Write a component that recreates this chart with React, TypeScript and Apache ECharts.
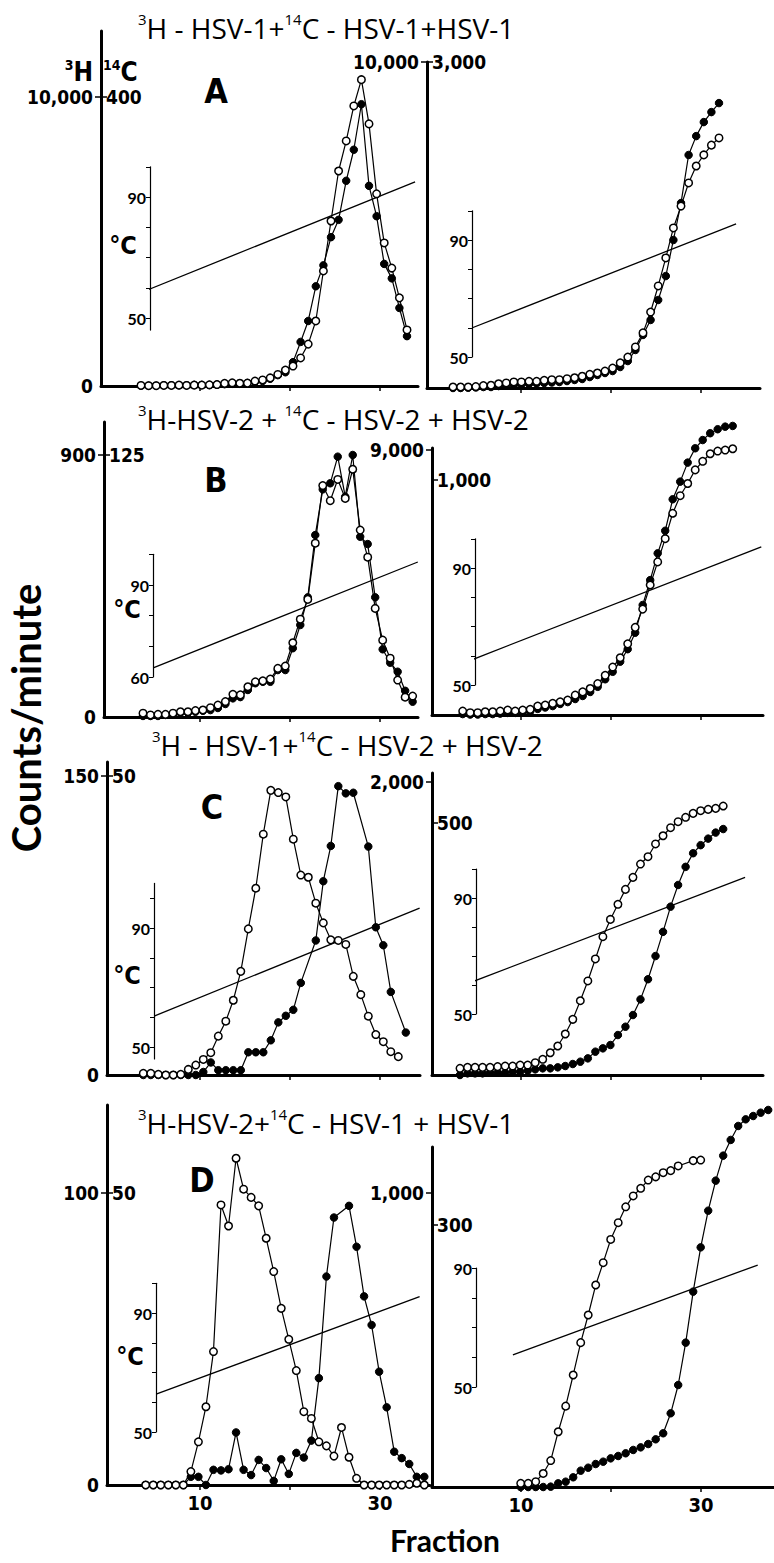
import React, { useEffect, useRef } from "react";
import * as echarts from "echarts";

// ---------------- data ----------------
// Panel A : 3H-HSV-1 + 14C-HSV-1 + HSV-1
const aLeft3H = [20, 10, 10, 20, 20, 30, 20, 30, 30, 40, 50, 90, 110, 95, 100, 170, 210, 280, 400, 550, 690, 970, 1450, 2250, 3980, 5710, 7440, 8480, 9690, 10600, 9070, 6650, 4950, 4080, 3050, 1940];
const aLeft14C = [0.5, 0.5, 0.5, 1, 1, 1, 1, 1.5, 1.5, 1.5, 2, 2.5, 3, 3, 4, 6, 7, 10, 15, 19, 33, 61, 90, 138, 167, 206, 230, 284, 327, 390, 277, 235, 169, 149, 108, 69];
const aRight3H = [30, 30, 30, 45, 75, 85, 130, 155, 185, 185, 205, 205, 235, 255, 255, 285, 315, 360, 420, 460, 520, 610, 770, 950, 1260, 1690, 2330, 3130, 3990, 4910, 5580, 6290, 6810, 7150, 7450, 7670];
const aRight14C = [0, 0, 3, 5, 9, 9, 18, 23, 28, 32, 37, 41, 46, 51, 55, 64, 74, 83, 101, 120, 138, 156, 193, 248, 350, 488, 626, 810, 1030, 1362, 1702, 2144, 2318, 2447, 2539, 2622];
// Panel B : 3H-HSV-2 + 14C-HSV-2 + HSV-2
const bLeft3H = [13, 7, 9, 9, 13, 18, 18, 22, 24, 32, 41, 53, 78, 76, 104, 121, 124, 130, 167, 175, 255, 336, 404, 597, 795, 743, 816, 751, 851, 642, 549, 373, 264, 202, 127, 68, 72];
const bLeft14C = [0.5, 0.5, 0.5, 1, 1.5, 2, 2, 2.5, 3, 3.3, 4.3, 6.2, 8.9, 9.5, 12.9, 16.1, 16.8, 16.8, 22.4, 22.4, 32.8, 43.9, 57.1, 86.8, 108.6, 111.5, 124.2, 105.1, 125, 86, 82.5, 57.1, 32.3, 25.9, 21.6, 12.5, 7.3];
const bRight3H = [135, 78, 78, 111, 111, 135, 169, 135, 169, 192, 303, 337, 394, 448, 506, 674, 785, 900, 1068, 1348, 1628, 1944, 2416, 2976, 3596, 4415, 5200, 5988, 6851, 7448, 7862, 8324, 8617, 8873, 8964, 8998, 9042];
const bRight14C = [4, 2, 2, 4, 4, 6, 9, 9, 11, 15, 26, 32, 38, 47, 55, 68, 81, 98, 120, 152, 184, 227, 280, 350, 468, 574, 688, 784, 918, 993, 1074, 1135, 1170, 1199, 1216, 1227, 1230];
// Panel C : 3H-HSV-1 + 14C-HSV-2 + HSV-2
const cLeft3H = [0.8, 0.8, 0.3, 0, 0, 0.3, 2.8, 5, 7.8, 11.2, 19.5, 27, 37.5, 52, 73.3, 93.7, 120.8, 142.8, 141.7, 139.5, 118.3, 100.3, 99.2, 86.2, 76.3, 67.8, 67.5, 65.5, 49.5, 40.3, 29.5, 20.3, 16.7, 11.7, 9.2];
const cLeft14C = [0, 0, 0, 0, 0, 0, 0, 0, 0.5, 2.1, 0.8, 0.8, 0.8, 0.8, 3.8, 3.8, 3.8, 5.8, 8.8, 9.9, 10.9, 15.4, null, 22.5, 32.4, 38.3, 48.3, 47.1, 47.2, null, 38.2, 24.7, 21.7, 13.9, null, 7.1];
const cRight3H = [45.5, 52, 52, 52, 52, 57, 61, 61, 68, 68, 84, 107, 152, 198, 280, 380, 507, 642, 792, 944, 1062, 1165, 1267, 1349, 1440, 1490, 1577, 1633, 1688, 1729, 1759, 1786, 1804, 1813, 1820, 1836];
const cRight14C = [0, 3.3, 3.3, 3.3, 4.6, 4.6, 4.6, 6.6, 6.6, 8.6, 11.2, 13.2, 13.2, 15.2, 17.8, 21.8, 26.4, 33, 46.3, 52.9, 59.5, 79.3, 95.8, 119, 150, 190, 236, 284, 334, 377, 413, 440, 456, 469, 481, 488];
// Panel D : 3H-HSV-2 + 14C-HSV-1 + HSV-1
const dLeft3H = [0, 0, 0, 0, 0, 0, 4.6, 14.8, 26.8, 45.7, 95.9, 88.7, 111.9, 101.3, 98.5, 95.6, 84.5, 73.1, 60.5, 49.9, 39.2, 25.1, 22.8, 14.8, 13.4, 9.9, 19.7, 9.5, 2.3, 0, 0, 0, 0, 0, 0, 0.2, 0.6, 0];
const dLeft14C = [0, 0, 0, 0, 0, 0, 1.4, 1.4, 0, 2.6, 2.5, 2.7, 9.0, 2.6, 1.7, 4.3, 2.9, 0.7, 4.4, 1.9, 5.5, 4.7, 7.6, 18.3, 35.7, 45.8, null, 47.8, 40.8, 32.3, 27.4, 19.4, 13.3, 5.7, 4.6, 3.6, 1.4, 1.4];
const dRight3H = [12.5, 12.5, 18, 46, 90, 188, 275, 381, 491, 585, 687, 763, 842, 899, 953, 990, 1016, 1044, 1055, 1069, 1076, 1092, null, 1110, 1112];
const dRight14C = [0, 0, 0, 0, 0.4, 4.2, 6.1, 11.1, 18.7, 22.1, 26.3, 29, 32.8, 35.5, 38.6, 42.4, 45.4, 49.2, 54.6, 61.5, 84.4, 116.8, 165.3, 223.7, 274.4, 316.4, 350.8, 379.4, 397.4, 413.4, 421, 424.8, 428.6, 431.7];

// counts/minute tick labels: [3H, 14C]
const aLeftAxis = [10000, 400];
const aRightAxis = [10000, 3000];
const bLeftAxis = [900, 125];
const bRightAxis = [9000, 1000];
const cLeftAxis = [150, 50];
const cRightAxis = [2000, 500];
const dLeftAxis = [100, 50];
const dRightAxis = [1000, 300];

// temperature gradient: [fraction, degC] at both ends
const aLeftTemp = [[1.7, 56.3], [33.9, 95]];
const aRightTemp = [[4.6, 60], [33.9, 95.5]];
const bLeftTemp = [[4.8, 63], [34.2, 97.5]];
const bRightTemp = [[3.6, 57.5], [36.7, 97.2]];
const cLeftTemp = [[4.9, 60.4], [34.4, 96.7]];
const cRightTemp = [[3.4, 59.7], [34.9, 97.1]];
const dLeftTemp = [[5.2, 62.8], [34.4, 95.5]];
const dRightTemp = [[9.1, 60.8], [36.3, 91]];

const fractionTicks = [10, 20, 30];
const fractionLabels = [10, 30];
const tempTicks = [50, 60, 70, 80, 90, 100];
const tempLabels50 = [50, 90];
const tempLabels60 = [60, 90];

const titles = [
  "{s|3}{m|H - HSV-1+}{s|14}{m|C - HSV-1+HSV-1}",
  "{s|3}{m|H-HSV-2 + }{s|14}{m|C - HSV-2 + HSV-2}",
  "{s|3}{m|H - HSV-1+}{s|14}{m|C - HSV-2 + HSV-2}",
  "{s|3}{m|H-HSV-2+}{s|14}{m|C - HSV-1 + HSV-1}",
];
const letters = ["A", "B", "C", "D"];

// ---------------- layout ----------------
const W = 774;
const H = 1563;
const COND = "'Liberation Sans Narrow','DejaVu Sans Condensed','Roboto Condensed','Liberation Sans',Arial,sans-serif";
const GEO = "Lato,'Open Sans','DejaVu Sans',sans-serif";
const TITLEF = "'Open Sans','Noto Sans','DejaVu Sans',sans-serif";

type TempCfg = { x: number; y90: number; yLow: number; low: number; tMin: number; tMax: number };
type PanelCfg = {
  axisX: number; topY: number; baseY: number; endX: number;
  labels: number[]; hLabelY: number; cLabelY: number; zero: boolean;
  firstX: number; dx: number; f10X: number; ppf: number; showFrac: boolean;
  temp: TempCfg; tempLabels: number[]; tempLine: number[][];
  open: (number | null)[]; filled: (number | null)[];
};

const panels: PanelCfg[] = [
  { axisX: 101, topY: 31, baseY: 386, endX: 418, labels: aLeftAxis, hLabelY: 97, cLabelY: 97, zero: true,
    firstX: 141, dx: 7.6, f10X: 200, ppf: 9, showFrac: false,
    temp: { x: 150, y90: 197, yLow: 318, low: 50, tMin: 46, tMax: 100 }, tempLabels: tempLabels50, tempLine: aLeftTemp,
    open: aLeft3H, filled: aLeft14C },
  { axisX: 427, topY: 62, baseY: 388, endX: 760, labels: aRightAxis, hLabelY: 62, cLabelY: 62, zero: false,
    firstX: 453, dx: 7.6, f10X: 521, ppf: 9, showFrac: false,
    temp: { x: 472, y90: 240, yLow: 357, low: 50, tMin: 50, tMax: 100 }, tempLabels: tempLabels50, tempLine: aRightTemp,
    open: aRight3H, filled: aRight14C },
  { axisX: 104, topY: 422, baseY: 717, endX: 418, labels: bLeftAxis, hLabelY: 455, cLabelY: 455, zero: true,
    firstX: 143, dx: 7.49, f10X: 200, ppf: 9, showFrac: false,
    temp: { x: 153, y90: 585, yLow: 677, low: 60, tMin: 60, tMax: 100 }, tempLabels: tempLabels60, tempLine: bLeftTemp,
    open: bLeft3H, filled: bLeft14C },
  { axisX: 432, topY: 448, baseY: 715, endX: 763, labels: bRightAxis, hLabelY: 450, cLabelY: 480, zero: false,
    firstX: 462.7, dx: 7.5, f10X: 521, ppf: 9, showFrac: false,
    temp: { x: 475, y90: 568, yLow: 685, low: 50, tMin: 50, tMax: 100 }, tempLabels: tempLabels50, tempLine: bRightTemp,
    open: bRight3H, filled: bRight14C },
  { axisX: 107, topY: 762, baseY: 1075, endX: 420, labels: cLeftAxis, hLabelY: 776, cLabelY: 776, zero: true,
    firstX: 143.3, dx: 7.5, f10X: 200, ppf: 9, showFrac: false,
    temp: { x: 154, y90: 928, yLow: 1047, low: 50, tMin: 46, tMax: 105 }, tempLabels: tempLabels50, tempLine: cLeftTemp,
    open: cLeft3H, filled: cLeft14C },
  { axisX: 432, topY: 773, baseY: 1075, endX: 763, labels: cRightAxis, hLabelY: 782, cLabelY: 823, zero: false,
    firstX: 460, dx: 7.52, f10X: 521, ppf: 9, showFrac: false,
    temp: { x: 476, y90: 898, yLow: 1014, low: 50, tMin: 50, tMax: 100 }, tempLabels: tempLabels50, tempLine: cRightTemp,
    open: cRight3H, filled: cRight14C },
  { axisX: 107, topY: 1105, baseY: 1485, endX: 430, labels: dLeftAxis, hLabelY: 1193, cLabelY: 1193, zero: true,
    firstX: 145.7, dx: 7.53, f10X: 200, ppf: 9, showFrac: true,
    temp: { x: 156, y90: 1313, yLow: 1432, low: 50, tMin: 50, tMax: 100 }, tempLabels: tempLabels50, tempLine: dLeftTemp,
    open: dLeft3H, filled: dLeft14C },
  { axisX: 432, topY: 1147, baseY: 1487, endX: 774, labels: dRightAxis, hLabelY: 1193, cLabelY: 1225, zero: false,
    firstX: 520.7, dx: 7.5, f10X: 521, ppf: 9, showFrac: true,
    temp: { x: 476, y90: 1268, yLow: 1387, low: 50, tMin: 50, tMax: 90 }, tempLabels: tempLabels50, tempLine: dRightTemp,
    open: dRight3H, filled: dRight14C },
];

const titlePos = [[138, 28], [138, 419], [152, 745], [138, 1123]];
const letterPos = [[216, 91], [216, 480], [212, 807], [202, 1180]];
const degPos = [[123, 245], [127, 609], [127, 975], [130, 1356]];

const fmt = (v: number) => String(v).replace(/\B(?=(\d{3})+(?!\d))/g, ",");
const toSeries = (vals: (number | null)[]) => vals.map((v, i) => [i + 1, v == null ? "-" : v]);

function buildOption() {
  const grid: any[] = [];
  const xAxis: any[] = [];
  const yAxis: any[] = [];
  const series: any[] = [];
  const black = "#000";
  const yLab = { color: black, fontFamily: COND, fontWeight: "bold", fontSize: 19 };

  panels.forEach((p) => {
    const gi = grid.length;
    const gl = p.axisX, gr = p.endX, gt = p.topY, gb = p.baseY;
    grid.push({ left: gl, top: gt, width: gr - gl, height: gb - gt });
    const xd = xAxis.length;
    xAxis.push({ type: "value", gridIndex: gi, min: 1 - (p.firstX - gl) / p.dx, max: 1 + (gr - p.firstX) / p.dx, show: false });
    xAxis.push({
      type: "value", gridIndex: gi, position: "bottom",
      min: 10 + (gl - p.f10X) / p.ppf, max: 10 + (gr - p.f10X) / p.ppf,
      axisLine: { show: true, onZero: false, lineStyle: { color: black, width: 3 } },
      axisTick: { show: true, customValues: fractionTicks, length: 5, lineStyle: { color: black, width: 1.5 } },
      axisLabel: { show: p.showFrac, customValues: fractionLabels, color: black, fontFamily: COND, fontWeight: "bold", fontSize: 20, margin: 8 },
      splitLine: { show: false },
    });
    const [hv, cv] = p.labels;
    const yh = yAxis.length;
    yAxis.push({
      type: "value", gridIndex: gi, position: "left", min: 0, max: (hv * (gb - gt)) / (gb - p.hLabelY),
      axisLine: { show: true, onZero: false, lineStyle: { color: black, width: 3 } },
      axisTick: { show: true, customValues: [hv], length: 6, lineStyle: { color: black, width: 1.5 } },
      axisLabel: { ...yLab, customValues: p.zero ? [0, hv] : [hv], formatter: fmt, margin: 8 },
      splitLine: { show: false },
    });
    const yc = yAxis.length;
    yAxis.push({
      type: "value", gridIndex: gi, position: "left", min: 0, max: (cv * (gb - gt)) / (gb - p.cLabelY),
      axisLine: { show: false, onZero: false },
      axisTick: { show: true, inside: true, customValues: [cv], length: 6, lineStyle: { color: black, width: 1.5 } },
      axisLabel: { ...yLab, inside: true, customValues: [cv], formatter: fmt, margin: 5 },
      splitLine: { show: false },
    });
    series.push({
      type: "line", xAxisIndex: xd, yAxisIndex: yc, data: toSeries(p.filled), connectNulls: true, clip: false, silent: true,
      symbol: "circle", symbolSize: 7.5, lineStyle: { color: black, width: 1.2 },
      itemStyle: { color: black, borderColor: black, borderWidth: 1 }, z: 3,
    });
    series.push({
      type: "line", xAxisIndex: xd, yAxisIndex: yh, data: toSeries(p.open), connectNulls: true, clip: false, silent: true,
      symbol: "circle", symbolSize: 7.5, lineStyle: { color: black, width: 1.2 },
      itemStyle: { color: "#fff", borderColor: black, borderWidth: 1.5 }, z: 4,
    });

    // temperature axis + gradient line
    const t = p.temp;
    const ppd = (t.yLow - t.y90) / (90 - t.low);
    const tt = t.y90 - (t.tMax - 90) * ppd;
    const tb = t.y90 + (90 - t.tMin) * ppd;
    const gt2 = grid.length;
    grid.push({ left: t.x, top: tt, width: gr - t.x, height: tb - tt });
    const xt = xAxis.length;
    xAxis.push({ type: "value", gridIndex: gt2, min: 10 + (t.x - p.f10X) / p.ppf, max: 10 + (gr - p.f10X) / p.ppf, show: false });
    const yt = yAxis.length;
    yAxis.push({
      type: "value", gridIndex: gt2, position: "left", min: t.tMin, max: t.tMax,
      axisLine: { show: true, onZero: false, lineStyle: { color: black, width: 1.2 } },
      axisTick: { show: true, customValues: tempTicks.filter((v) => v >= t.tMin && v <= t.tMax), length: 4, lineStyle: { color: black, width: 1 } },
      axisLabel: { customValues: p.tempLabels, color: black, fontFamily: GEO, fontWeight: "bold", fontSize: 16, margin: 4 },
      splitLine: { show: false },
    });
    series.push({
      type: "line", xAxisIndex: xt, yAxisIndex: yt, data: p.tempLine, clip: false, silent: true, symbol: "none",
      lineStyle: { color: black, width: 1.3 }, z: 2,
    });
  });

  const graphic: any[] = [];
  titles.forEach((txt, i) => {
    graphic.push({
      type: "text", x: titlePos[i][0], y: titlePos[i][1], silent: true,
      style: {
        text: txt, align: "left", verticalAlign: "middle", fill: black,
        rich: {
          m: { fontFamily: TITLEF, fontSize: 28, fill: black, color: black, lineHeight: 34 },
          s: { fontFamily: TITLEF, fontSize: 15, fill: black, color: black, lineHeight: 16, verticalAlign: "top" },
        },
      },
    });
  });
  letters.forEach((l, i) => {
    graphic.push({
      type: "text", x: letterPos[i][0], y: letterPos[i][1], silent: true,
      style: { text: l, align: "center", verticalAlign: "middle", fill: black, fontFamily: COND, fontWeight: "bold", fontSize: 34 },
    });
    graphic.push({
      type: "text", x: degPos[i][0], y: degPos[i][1], silent: true,
      style: { text: "°C", align: "center", verticalAlign: "middle", fill: black, fontFamily: COND, fontWeight: "bold", fontSize: 25 },
    });
  });
  const hdrRich = {
    b: { fontFamily: COND, fontWeight: "bold", fontSize: 26, fill: black, color: black, lineHeight: 28 },
    s: { fontFamily: COND, fontWeight: "bold", fontSize: 14, fill: black, color: black, lineHeight: 14, verticalAlign: "top" },
  };
  graphic.push({ type: "text", x: 93, y: 72, silent: true, style: { text: "{s|3}{b|H}", align: "right", verticalAlign: "middle", rich: hdrRich } });
  graphic.push({ type: "text", x: 103, y: 72, silent: true, style: { text: "{s|14}{b|C}", align: "left", verticalAlign: "middle", rich: hdrRich } });
  graphic.push({
    type: "text", x: 26, y: 718, rotation: Math.PI / 2, silent: true,
    style: { text: "Counts/minute", align: "center", verticalAlign: "middle", fill: black, fontFamily: GEO, fontWeight: "bold", fontSize: 40 },
  });
  graphic.push({
    type: "text", x: 445, y: 1540, silent: true,
    style: { text: "Fraction", align: "center", verticalAlign: "middle", fill: black, fontFamily: GEO, fontWeight: "bold", fontSize: 30 },
  });

  return { animation: false, backgroundColor: "#fff", grid, xAxis, yAxis, series, graphic };
}

export default function App() {
  const ref = useRef<HTMLDivElement>(null);
  useEffect(() => {
    if (!ref.current) return;
    const chart = echarts.init(ref.current, undefined, { renderer: "svg", width: W, height: H });
    chart.setOption(buildOption() as any);
    return () => chart.dispose();
  }, []);
  return <div ref={ref} style={{ position: "fixed", left: 0, top: 0, width: W, height: H, background: "#fff" }} />;
}
